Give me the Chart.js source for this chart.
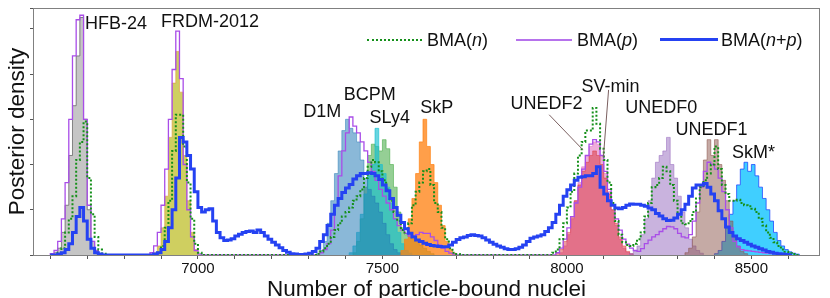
<!DOCTYPE html>
<html>
<head>
<meta charset="utf-8">
<script src="https://cdn.jsdelivr.net/npm/chart.js@4.4.1/dist/chart.umd.min.js"></script>
<style>
  html, body { margin: 0; padding: 0; background: #fff; }
  #wrap { position: relative; width: 830px; height: 298px; }
  #legend { font: 18px 'Liberation Sans', Arial, sans-serif; color: #111; }
  .lg-line { position: absolute; }
  .lg-text { position: absolute; top: 29px; height: 22px; line-height: 22px; white-space: nowrap; }
</style>
</head>
<body>
<div id="wrap">
  <canvas id="chart" width="830" height="298"></canvas>
  <div id="legend">
    <div class="lg-line" style="left:367px; width:55px; top:39px; height:0; border-top:2px dotted #15901a"></div>
    <div class="lg-text" style="left:427px">BMA(<i>n</i>)</div>
    <div class="lg-line" style="left:516px; width:56px; top:39px; height:2px; background:#b672ec"></div>
    <div class="lg-text" style="left:577px">BMA(<i>p</i>)</div>
    <div class="lg-line" style="left:660px; width:58px; top:38px; height:3px; background:#2542f2"></div>
    <div class="lg-text" style="left:721px">BMA(<i>n</i>+<i>p</i>)</div>
  </div>
</div>
<script>
// all histograms use bins of 10 nuclei
const binWidth = 10

// --- BMA curves, first bin at 6600 ---
const bmaStart = 6600
const bmaN = [
    0, 0, 0.05, 0.15, 0.5, 0.8, 1.3, 2.1, 2.5, 2.95,
    1.7, 0.9, 0.4, 0.12, 0.03, 0, 0, 0, 0, 0,
    0, 0, 0, 0, 0, 0, 0, 0, 0, 0.05,
    0.2, 0.6, 1.2, 2.3, 3.1, 3.1, 2.4, 1.6, 0.8, 0.25,
    0.05, 0, 0, 0, 0, 0, 0, 0, 0, 0,
    0, 0, 0, 0, 0, 0, 0, 0, 0, 0,
    0, 0, 0, 0, 0, 0, 0, 0, 0, 0,
    0, 0, 0.03, 0.08, 0.15, 0.25, 0.4, 0.55, 0.7, 0.85,
    0.95, 1.05, 1.2, 1.3, 1.45, 1.7, 1.95, 2.1, 2.05, 1.85,
    1.65, 1.45, 1.2, 0.95, 0.75, 0.55, 0.5, 0.7, 1.1, 1.4,
    1.6, 1.85, 1.9, 1.55, 1.15, 0.95, 0.6, 0.35, 0.15, 0.05,
    0.02, 0, 0, 0, 0, 0, 0, 0, 0, 0,
    0, 0, 0, 0, 0, 0, 0, 0, 0, 0,
    0, 0, 0, 0, 0, 0, 0.05, 0.12, 0.35, 0.7,
    1.05, 1.4, 1.8, 2.2, 2.5, 2.75, 2.75, 3.25, 2.9, 2.35,
    2.1, 1.6, 1.15, 0.75, 0.45, 0.28, 0.22, 0.2, 0.25, 0.35,
    0.5, 0.85, 1.15, 1.5, 1.55, 1.7, 1.95, 1.85, 1.55, 1.2,
    0.9, 0.7, 0.68, 0.75, 0.95, 1.25, 1.5, 1.65, 1.8, 2.0,
    2.4, 1.9, 1.55, 1.35, 1.2, 1.2, 1.22, 1.15, 1.1, 1.08,
    1.02, 0.95, 0.8, 0.65, 0.5, 0.38, 0.28, 0.2, 0.12, 0.07,
    0.04, 0.02, 0
]
const bmaP = [
    0.03, 0.1, 0.3, 0.8, 1.6, 3.0, 4.4, 5.2, 5.3, 3.0,
    1.1, 0.3, 0.1, 0.03, 0, 0, 0, 0, 0, 0,
    0, 0, 0, 0, 0, 0, 0, 0.05, 0.2, 0.5,
    1.1, 1.9, 3.0, 4.1, 4.95, 3.9, 2.0, 1.0, 0.4, 0.1,
    0.02, 0, 0, 0, 0, 0, 0, 0, 0, 0,
    0, 0, 0, 0, 0, 0, 0, 0, 0, 0,
    0, 0, 0, 0, 0, 0, 0, 0, 0, 0,
    0, 0, 0, 0.05, 0.12, 0.25, 0.55, 1.1, 1.75, 2.3,
    2.7, 3.05, 2.85, 2.7, 2.5, 2.3, 2.05, 1.85, 1.65, 1.45,
    1.3, 1.15, 1.0, 0.8, 0.65, 0.55, 0.48, 0.42, 0.42, 0.45,
    0.5, 0.48, 0.48, 0.4, 0.32, 0.22, 0.15, 0.08, 0.04, 0.02,
    0, 0, 0, 0, 0, 0, 0, 0, 0, 0,
    0, 0, 0, 0, 0, 0, 0, 0, 0, 0,
    0, 0, 0, 0, 0, 0, 0, 0.05, 0.15, 0.35,
    0.6, 0.85, 1.15, 1.5, 1.9, 2.2, 2.45, 2.55, 2.5, 2.2,
    1.85, 1.45, 1.1, 0.8, 0.55, 0.35, 0.24, 0.15, 0.1, 0.08,
    0.14, 0.25, 0.33, 0.4, 0.45, 0.52, 0.58, 0.63, 0.62, 0.58,
    0.48, 0.4, 0.38, 0.45, 0.75, 1.15, 1.5, 1.85, 2.05, 2.0,
    1.9, 1.7, 1.4, 1.0, 0.6, 0.3, 0.18, 0.12, 0.1, 0.09,
    0.08, 0.07, 0.06, 0.05, 0.04, 0.03, 0.03, 0.02, 0.01, 0,
    0
]
const bmaNP = [
    0, 0, 0.02, 0.05, 0.12, 0.25, 0.5, 0.85, 1.05, 0.75,
    0.35, 0.15, 0.05, 0.02, 0, 0, 0, 0, 0, 0,
    0, 0, 0, 0, 0, 0, 0, 0, 0.02, 0.05,
    0.12, 0.3, 0.6, 1.0, 1.7, 2.6, 2.5, 2.2, 1.9, 1.4,
    1.05, 0.95, 1.0, 1.02, 0.75, 0.5, 0.38, 0.32, 0.33, 0.36,
    0.42, 0.46, 0.5, 0.52, 0.53, 0.5, 0.55, 0.5, 0.42, 0.35,
    0.28, 0.22, 0.16, 0.1, 0.06, 0.03, 0.02, 0.01, 0.01, 0.02,
    0.04, 0.08, 0.15, 0.3, 0.45, 0.65, 0.9, 1.1, 1.25, 1.38,
    1.48, 1.56, 1.68, 1.75, 1.8, 1.8, 1.82, 1.8, 1.75, 1.67,
    1.55, 1.42, 1.25, 1.05, 0.88, 0.72, 0.58, 0.48, 0.4, 0.33,
    0.3, 0.26, 0.23, 0.21, 0.2, 0.19, 0.18, 0.18, 0.22, 0.28,
    0.34, 0.38, 0.4, 0.43, 0.45, 0.43, 0.42, 0.38, 0.33, 0.28,
    0.24, 0.2, 0.17, 0.14, 0.12, 0.12, 0.14, 0.17, 0.22, 0.3,
    0.37, 0.4, 0.42, 0.45, 0.52, 0.6, 0.72, 0.9, 1.1, 1.3,
    1.44, 1.55, 1.65, 1.72, 1.73, 1.75, 1.75, 1.8, 1.95, 1.5,
    1.35, 1.2, 1.1, 1.04, 1.02, 1.05, 1.1, 1.13, 1.12, 1.12,
    1.1, 1.08, 1.04, 1.0, 0.92, 0.86, 0.8, 0.76, 0.77, 0.82,
    0.9, 1.0, 1.12, 1.3, 1.48, 1.55, 1.55, 1.58, 1.5, 1.35,
    1.2, 0.98, 0.8, 0.62, 0.5, 0.42, 0.36, 0.32, 0.28, 0.24,
    0.2, 0.17, 0.14, 0.11, 0.08, 0.06, 0.04, 0.03, 0.02, 0.01,
    0
]

// --- single-model histograms ---
const modelNames = ['HFB-24', 'FRDM-2012', 'D1M', 'BCPM', 'SLy4', 'SkP', 'UNEDF2', 'SV-min', 'UNEDF0', 'UNEDF1', 'SkM*']
const modelStart = [6610, 6880, 7320, 7410, 7420, 7550, 7970, 7980, 8170, 8320, 8400]
const hfb24 = [0.05, 0.15, 0.5, 1.1, 2.2, 3.3, 4.4, 5.25, 3.0, 1.0, 0.3, 0.08, 0.02]
const frdm2012 = [0.05, 0.2, 0.6, 1.3, 2.6, 3.8, 4.5, 3.6, 2.2, 1.2, 0.5, 0.12]
const d1m = [0.03, 0.1, 0.3, 0.7, 1.2, 1.8, 2.3, 2.75, 3.0, 2.8, 2.7, 2.5, 2.1, 1.7, 1.45, 1.3, 1.15, 0.95, 0.7, 0.45, 0.25, 0.12, 0.05]
const bcpm = [0.05, 0.2, 0.5, 0.9, 1.35, 1.75, 2.0, 2.8, 2.0, 1.8, 1.5, 1.15, 0.8, 0.5, 0.25, 0.1, 0.04]
const sly4 = [0.05, 0.3, 0.8, 1.5, 2.2, 2.45, 2.4, 2.3, 2.55, 2.35, 2.0, 1.5, 0.95, 0.6, 0.45, 0.4, 0.35, 0.3, 0.22, 0.15, 0.08, 0.03]
const skp = [0.1, 0.35, 0.8, 1.25, 1.8, 2.5, 3.0, 2.4, 2.0, 1.6, 1.1, 0.65, 0.3, 0.12, 0.04]
const unedf2 = [0.05, 0.12, 0.3, 0.5, 0.85, 1.2, 1.55, 1.85, 2.05, 2.2, 2.3, 2.2, 2.0, 1.7, 1.35, 1.0, 0.7, 0.4, 0.2, 0.08, 0.03]
const svmin = [0.05, 0.2, 0.45, 0.8, 1.2, 1.6, 1.95, 2.2, 2.4, 2.5, 2.45, 2.2, 1.8, 1.4, 1.0, 0.65, 0.35, 0.15, 0.06, 0.02]
const unedf0 = [0.03, 0.08, 0.2, 0.45, 0.8, 1.2, 1.7, 2.05, 2.2, 2.3, 2.6, 2.0, 1.7, 1.3, 0.95, 0.6, 0.35, 0.2, 0.1, 0.04]
const unedf1 = [0.05, 0.15, 0.4, 0.95, 1.55, 2.1, 2.55, 2.2, 2.55, 2.0, 1.65, 1.2, 0.75, 0.4, 0.2, 0.08, 0.03]
const skmStar = [0.03, 0.1, 0.3, 0.6, 0.9, 1.2, 1.55, 1.9, 2.05, 1.85, 2.0, 1.75, 1.5, 1.25, 1.0, 0.75, 0.5, 0.32, 0.2, 0.12, 0.07, 0.04, 0.02]
const modelValues = [hfb24, frdm2012, d1m, bcpm, sly4, skp, unedf2, svmin, unedf0, unedf1, skmStar]

const xTickLabels = [7000, 7500, 8000, 8500]

// model label placement (data coords) and the two pointer lines
const labelX = [6778, 7033, 7337, 7466, 7520, 7647, 7945, 8118, 8256, 8392, 8506]
const labelY = [5.13, 5.18, 3.19, 3.56, 3.04, 3.26, 3.36, 3.74, 3.26, 2.79, 2.27]
const pointers = [
    [7952, 3.10, 8044, 2.32],   // UNEDF2
    [8113, 3.65, 8099, 2.17],   // SV-min
]

// --- styles ---
const modelFill = [
    'rgba(127,127,127,0.45)', 'rgba(188,189,34,0.72)', 'rgba(31,119,180,0.52)', 'rgba(23,190,207,0.65)',
    'rgba(44,160,44,0.5)', 'rgba(255,127,14,0.75)', 'rgba(214,39,40,0.45)', 'rgba(227,119,194,0.6)',
    'rgba(148,103,189,0.5)', 'rgba(140,86,75,0.5)', 'rgba(0,191,255,0.75)'
]
const modelEdge = [
    'rgba(90,90,90,0.9)', 'rgba(225,150,60,0.75)', 'rgba(31,119,180,0.6)', 'rgba(23,190,207,0.8)',
    'rgba(44,160,44,0.6)', 'rgba(255,127,14,0.85)', 'rgba(214,39,40,0.55)', 'rgba(227,119,194,0.75)',
    'rgba(148,103,189,0.65)', 'rgba(140,86,75,0.7)', 'rgba(20,60,255,0.9)'
]
// which model sits on top (first = top-most)
const stackOrder = ['UNEDF1', 'SkM*', 'UNEDF0', 'UNEDF2', 'SV-min', 'SkP', 'D1M', 'BCPM', 'SLy4', 'FRDM-2012', 'HFB-24']

function hasFont(name) {
    const c = document.createElement('canvas').getContext('2d')
    c.font = '40px monospace'
    const base = c.measureText('7000 Nnmi').width
    c.font = `40px '${name}', monospace`
    return c.measureText('7000 Nnmi').width !== base
}
const narrow = hasFont('Liberation Sans Narrow')
const tickFont = narrow
    ? { family: "'Liberation Sans Narrow', 'Liberation Sans', Arial, sans-serif", size: 18 }
    : { family: "'Liberation Sans', Arial, sans-serif", size: 15 }
const SANS = "'Liberation Sans', Arial, sans-serif"

function histPoints(start, values) {
    const pts = [{ x: start, y: 0 }]
    values.forEach((v, i) => pts.push({ x: start + i * binWidth, y: v }))
    pts.push({ x: start + values.length * binWidth, y: 0 })
    return pts
}

function lineSet(label, values, color, width, dash) {
    return {
        label, data: histPoints(bmaStart, values), stepped: 'before', fill: false,
        borderColor: color, borderWidth: width, borderDash: dash || [], pointRadius: 0,
    }
}

const datasets = [
    lineSet('BMA(n+p)', bmaNP, '#2542f2', 3),
    lineSet('BMA(n)', bmaN, '#15901a', 2, [2, 2]),
    lineSet('BMA(p)', bmaP, '#a94de8', 1.3),
]
stackOrder.forEach(name => {
    const i = modelNames.indexOf(name)
    datasets.push({
        label: name, data: histPoints(modelStart[i], modelValues[i]), stepped: 'before', fill: 'origin',
        backgroundColor: modelFill[i], borderColor: modelEdge[i], borderWidth: 0.8, pointRadius: 0,
    })
})

// frame + model names drawn on top of the data
const annotate = {
    id: 'annotate',
    afterDatasetsDraw(chart) {
        const { ctx, scales: { x, y } } = chart
        ctx.save()
        ctx.strokeStyle = '#7a5f5f'
        ctx.lineWidth = 1
        pointers.forEach(([x1, y1, x2, y2]) => {
            ctx.beginPath()
            ctx.moveTo(x.getPixelForValue(x1), y.getPixelForValue(y1))
            ctx.lineTo(x.getPixelForValue(x2), y.getPixelForValue(y2))
            ctx.stroke()
        })
        ctx.font = '18px ' + SANS
        ctx.fillStyle = '#111'
        ctx.textAlign = 'center'
        ctx.textBaseline = 'middle'
        modelNames.forEach((name, i) => {
            ctx.fillText(name, x.getPixelForValue(labelX[i]), y.getPixelForValue(labelY[i]) + 1)
        })
        ctx.restore()
    },
    afterDraw(chart) {
        const { ctx, chartArea: a } = chart
        ctx.save()
        ctx.strokeStyle = '#808080'
        ctx.lineWidth = 1
        ctx.strokeRect(a.left + 0.5, a.top + 0.5, a.right - a.left - 1, a.bottom - a.top)
        ctx.restore()
    }
}

new Chart(document.getElementById('chart'), {
    type: 'line',
    data: { datasets },
    options: {
        responsive: false,
        animation: false,
        events: [],
        layout: { padding: { top: 8, right: 10, left: 0, bottom: 0 } },
        plugins: { legend: { display: false }, tooltip: { enabled: false } },
        scales: {
            x: {
                type: 'linear', min: 6553, max: 8686,
                afterFit: s => { s.height = 43 },
                border: { display: false },
                grid: { drawOnChartArea: false, tickLength: 4, tickColor: '#555' },
                ticks: {
                    stepSize: 100, includeBounds: false, autoSkip: false, maxRotation: 0, padding: 1,
                    color: '#111', font: tickFont,
                    callback: v => xTickLabels.includes(v) ? String(v) : '',
                },
                title: {
                    display: true, text: 'Number of particle-bound nuclei', color: '#111',
                    font: { family: SANS, size: 22.5, lineHeight: 0.75 }, padding: { top: 0, bottom: 0 },
                },
            },
            y: {
                min: 0, max: 5.46,
                afterFit: s => { s.width = 33 },
                border: { display: false },
                grid: { drawOnChartArea: false, tickLength: 3, tickColor: '#555' },
                ticks: { stepSize: 1, display: false },
                title: {
                    display: true, text: 'Posterior density', color: '#111',
                    font: { family: SANS, size: 22.5 }, padding: { top: 4, bottom: 0 },
                },
            },
        },
    },
    plugins: [annotate],
})
</script>
</body>
</html>
